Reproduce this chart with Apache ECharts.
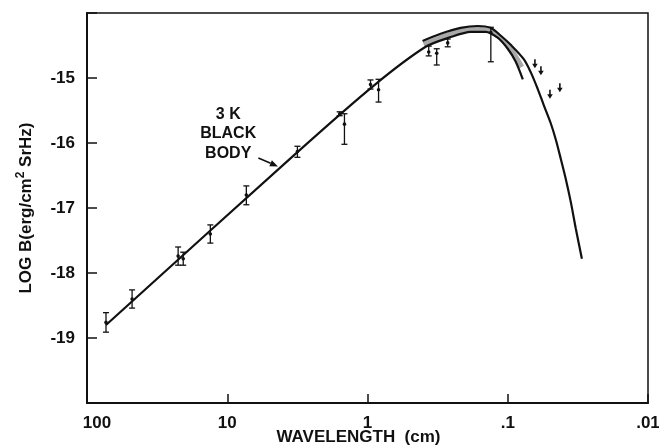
<!DOCTYPE html>
<html><head><meta charset="utf-8">
<script src="https://cdn.jsdelivr.net/npm/echarts@6/dist/echarts.min.js"></script>
<style>html,body{margin:0;padding:0;background:#fff}#c{width:659px;height:445px}</style>
</head><body><div id="c"></div>
<script>
// ---- data (wavelength in cm, LOG B) ----
const xTickLabels = {'2':'100','1':'10','0':'1','-1':'.1','-2':'.01'};
const yTickLabels = ['-15','-16','-17','-18','-19'];

// 3 K black body curve: Rayleigh-Jeans branch + lower edge of peak band
const lowCurveWl  = [73.2, 3.16, 0.906, 0.385, 0.255, 0.184, 0.144, 0.118, 0.100, 0.0877, 0.0781];
const lowCurveLog = [-18.80, -16.14, -15.12, -14.52, -14.37, -14.29, -14.29, -14.38, -14.55, -14.75, -15.02];
// upper edge of peak band continuing into the Wien fall-off
const highCurveWl  = [0.405, 0.301, 0.217, 0.164, 0.132, 0.112, 0.0952, 0.0769, 0.0686, 0.0611, 0.0553, 0.0493, 0.0454, 0.0418, 0.0385, 0.0355, 0.0327, 0.0296];
const highCurveLog = [-14.43, -14.32, -14.23, -14.20, -14.23, -14.35, -14.49, -14.71, -14.91, -15.17, -15.42, -15.70, -15.95, -16.25, -16.56, -16.91, -17.32, -17.78];
// shaded band between the two peak curves
const bandWl  = [0.398, 0.255, 0.184, 0.144, 0.118, 0.100, 0.0877, 0.0794];
const bandLog = [-14.48, -14.32, -14.25, -14.26, -14.35, -14.50, -14.67, -14.83];

// measurements with error bars
const pointWl   = [73.2, 47.7, 22.4, 20.6, 13.2, 7.31, 3.16, 1.58, 1.46, 0.952, 0.834, 0.366, 0.321, 0.268, 0.132];
const pointLog  = [-18.76, -18.40, -17.74, -17.78, -17.40, -16.80, -16.13, -15.55, -15.71, -15.10, -15.18, -14.60, -14.62, -14.46, -14.30];
const errHigh   = [-18.61, -18.26, -17.60, -17.68, -17.26, -16.66, -16.05, -15.52, -15.55, -15.03, -15.02, -14.51, -14.55, -14.40, -14.22];
const errLow    = [-18.91, -18.54, -17.88, -17.88, -17.54, -16.95, -16.22, -15.58, -16.02, -15.17, -15.37, -14.66, -14.80, -14.52, -14.75];

// upper limits (arrows)
const limitWl  = [0.064, 0.058, 0.050, 0.0425];
const limitLog = [-14.78, -14.89, -15.25, -15.15];

// annotation
const noteText = '3 K\nBLACK\nBODY';
const noteAt = [9.84, -15.86];
const noteArrow = [6.0, -16.23, 4.35, -16.36];

const FONT = '"Liberation Sans", Arial, sans-serif';
const INK = '#111';

const zip = (a, b) => a.map((v, i) => [v, b[i]]);

const chart = echarts.init(document.getElementById('c'), null, {renderer: 'canvas'});
chart.setOption({
  animation: false,
  backgroundColor: '#fff',
  grid: {left: 87, right: 11, top: 13, bottom: 42, outerBoundsMode: 'none', containLabel: false,
         show: true, borderColor: INK, borderWidth: 1.5, backgroundColor: 'transparent'},
  xAxis: {
    type: 'log', logBase: 10, min: 0.01, max: 100, inverse: true,
    name: 'WAVELENGTH  (cm)', nameLocation: 'middle', nameGap: 26, nameMoveOverlap: false,
    nameTextStyle: {fontFamily: FONT, fontWeight: 'bold', fontSize: 17, color: INK, padding: [0, 18, 0, 0]},
    axisLine: {lineStyle: {color: INK, width: 2}},
    axisTick: {inside: true, length: 9, lineStyle: {color: INK, width: 1.5}},
    splitLine: {show: false}, minorTick: {show: false},
    axisLabel: {
      margin: 12, color: INK, fontFamily: FONT, fontWeight: 'bold', fontSize: 17,
      formatter: v => {
        const k = String(Math.round(Math.log10(v)));
        const t = xTickLabels[k] || '';
        return k === '2' ? '{f|' + t + '}' : t;
      },
      rich: {f: {fontFamily: FONT, fontWeight: 'bold', fontSize: 17, color: INK, padding: [0, 0, 0, 20]}}
    }
  },
  yAxis: {
    type: 'value', min: -20, max: -14, interval: 1,
    name: 'LOG B(erg/cm{s|2} SrHz)', nameLocation: 'middle', nameGap: 50, nameRotate: 90, nameMoveOverlap: false,
    nameTextStyle: {fontFamily: FONT, fontWeight: 'bold', fontSize: 17, color: INK,
      rich: {s: {fontFamily: FONT, fontWeight: 'bold', fontSize: 12, color: INK, padding: [0, 0, 10, 0]}}},
    axisLine: {show: true, lineStyle: {color: INK, width: 2}},
    axisTick: {inside: true, length: 10, lineStyle: {color: INK, width: 1.5}},
    splitLine: {show: false},
    axisLabel: {
      margin: 12, color: INK, fontFamily: FONT, fontWeight: 'bold', fontSize: 17,
      formatter: v => yTickLabels.includes(String(v)) ? String(v) : ''
    }
  },
  series: [
    {type: 'line', data: zip(bandWl, bandLog), showSymbol: false, smooth: 0.25,
     lineStyle: {color: '#a8a8a8', width: 5}, z: 2},
    {type: 'line', data: zip(lowCurveWl, lowCurveLog), showSymbol: false, smooth: 0.25,
     lineStyle: {color: INK, width: 2.2}, z: 3},
    {type: 'line', data: zip(highCurveWl, highCurveLog), showSymbol: false, smooth: 0.3,
     lineStyle: {color: INK, width: 2.2}, z: 3},
    {type: 'custom', z: 4,
     data: pointWl.map((w, i) => [w, pointLog[i], errHigh[i], errLow[i]]),
     encode: {x: 0, y: [1, 2, 3]},
     renderItem: (params, api) => {
       const w = api.value(0);
       const p = api.coord([w, api.value(1)]);
       const hi = api.coord([w, api.value(2)]);
       const lo = api.coord([w, api.value(3)]);
       const st = {stroke: INK, lineWidth: 1.3};
       return {type: 'group', children: [
         {type: 'line', shape: {x1: p[0], y1: hi[1], x2: p[0], y2: lo[1]}, style: st},
         {type: 'line', shape: {x1: p[0] - 3, y1: hi[1], x2: p[0] + 3, y2: hi[1]}, style: st},
         {type: 'line', shape: {x1: p[0] - 3, y1: lo[1], x2: p[0] + 3, y2: lo[1]}, style: st},
         {type: 'circle', shape: {cx: p[0], cy: p[1], r: 1.8}, style: {fill: INK}}
       ]};
     }},
    {type: 'custom', z: 4,
     data: zip(limitWl, limitLog),
     encode: {x: 0, y: 1},
     renderItem: (params, api) => {
       const p = api.coord([api.value(0), api.value(1)]);
       return {type: 'group', children: [
         {type: 'line', shape: {x1: p[0], y1: p[1] - 4.5, x2: p[0], y2: p[1] + 1}, style: {stroke: INK, lineWidth: 1.6}},
         {type: 'polygon', shape: {points: [[p[0] - 2.8, p[1]], [p[0] + 2.8, p[1]], [p[0], p[1] + 4.5]]}, style: {fill: INK}}
       ]};
     }},
    {type: 'custom', z: 5,
     data: [[noteAt[0], noteAt[1], noteArrow[0], noteArrow[1], noteArrow[2], noteArrow[3]]],
     encode: {x: 0, y: 1},
     renderItem: (params, api) => {
       const t = api.coord([api.value(0), api.value(1)]);
       const a = api.coord([api.value(2), api.value(3)]);
       const b = api.coord([api.value(4), api.value(5)]);
       const dx = b[0] - a[0], dy = b[1] - a[1];
       const L = Math.hypot(dx, dy), ux = dx / L, uy = dy / L;
       const hl = 8, hw = 3.2;
       const bx = b[0] - ux * hl, by = b[1] - uy * hl;
       return {type: 'group', children: [
         {type: 'text', x: t[0], y: t[1], style: {text: noteText, fontFamily: FONT, fontWeight: 'bold', fontSize: 16,
           lineHeight: 19.5, fill: INK, align: 'center', verticalAlign: 'middle'}},
         {type: 'line', shape: {x1: a[0], y1: a[1], x2: bx, y2: by}, style: {stroke: INK, lineWidth: 1.6}},
         {type: 'polygon', shape: {points: [[b[0], b[1]], [bx - uy * hw, by + ux * hw], [bx + uy * hw, by - ux * hw]]}, style: {fill: INK}}
       ]};
     }}
  ]
});
</script></body></html>
